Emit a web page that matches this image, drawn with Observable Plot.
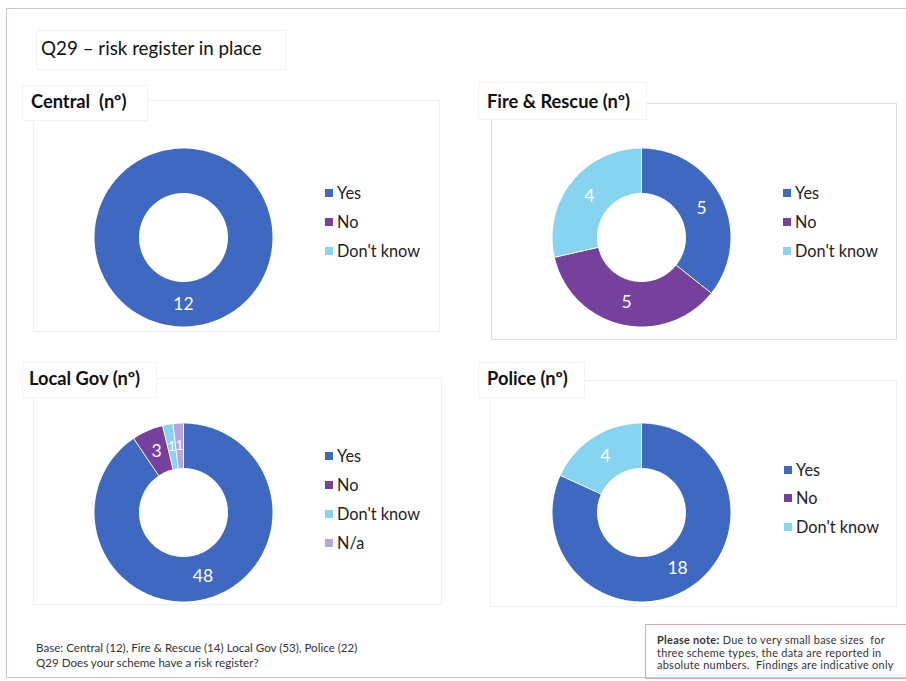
<!DOCTYPE html>
<html><head><meta charset="utf-8">
<script src="https://cdn.jsdelivr.net/npm/d3@7"></script>
<script src="https://cdn.jsdelivr.net/npm/@observablehq/plot@0.6"></script>
<style>
html,body{margin:0;padding:0;background:#fff;}
#page{position:relative;width:906px;height:681px;overflow:hidden;font-family:Lato,"Open Sans",sans-serif;color:#1e1e1e;background:#fff;}
.abs{position:absolute;}
.frame{left:6px;top:8px;width:940px;height:668px;border:1px solid #c3c8d6;}
.box{border:1px solid #f1f1f1;}
.title{font-size:18.8px;white-space:nowrap;line-height:22px;color:#111;}
.ptitle{font-size:18.3px;font-weight:bold;white-space:nowrap;line-height:22px;color:#111;}
.leg{font-size:16.3px;white-space:nowrap;line-height:18px;color:#222;}
.foot{font-size:11.6px;line-height:15px;color:#333;white-space:nowrap;}
.note{border:1px solid #e9a3ab;font-size:10.9px;letter-spacing:0.3px;line-height:12.6px;color:#333;white-space:nowrap;padding:9px 0 0 11px;box-sizing:border-box;}
</style></head><body><div id="page"></div>
<script>
// ---- data ----
const title = "Q29 – risk register in place";
const categories = ["Yes", "No", "Don't know", "N/a"];
const categoryColors = ["#3f68c0", "#76409d", "#86d4f0", "#b9a5de"];
const panelNames = ["Central&nbsp; (nº)", "Fire &amp; Rescue (nº)", "Local Gov (nº)", "Police (nº)"];
const centralValues = [12, 0, 0];
const fireRescueValues = [5, 5, 4];
const localGovValues = [48, 3, 1, 1];
const policeValues = [18, 0, 4];
const baseText = "Base: Central (12), Fire &amp; Rescue (14) Local Gov (53), Police (22)";
const questionText = "Q29 Does your scheme have a risk register?";
const noteLines = ["<b>Please note:</b> Due to very small base sizes&nbsp; for", "three scheme types, the data are reported in", "absolute numbers.&nbsp; Findings are indicative only"];

// ---- layout (positions only) ----
const layout = [
  {values: centralValues, cx: 183, cy: 237, titleBox: [22, 85, 124, 34], titleAt: [31, 101], area: [33, 100, 405, 230], legX: 325, legY: [193, 222, 251]},
  {values: fireRescueValues, cx: 641, cy: 237, titleBox: [478, 82, 167, 36], titleAt: [487, 101], area: [491, 103, 404, 235], legX: 783, legY: [193, 222, 251]},
  {values: localGovValues, cx: 183, cy: 512, titleBox: [22, 362, 133, 34], titleAt: [29, 378], area: [33, 378, 407, 225], legX: 325, legY: [456, 485, 514, 543]},
  {values: policeValues, cx: 641, cy: 512, titleBox: [478, 362, 105, 34], titleAt: [487, 378], area: [490, 380, 405, 225], legX: 784, legY: [470, 498, 527]}
];

const page = document.getElementById("page");
function el(cls, css, html) {
  const d = document.createElement("div");
  d.className = "abs " + cls;
  Object.assign(d.style, css);
  if (html != null) d.innerHTML = html;
  page.appendChild(d);
  return d;
}

el("frame", {});
el("box", {left: "36px", top: "30px", width: "248px", height: "38px"});
el("title", {left: "41px", top: "37px"}, title);

function donut(values) {
  const data = values.map((v, i) => ({cat: categories[i], value: v}));
  const total = d3.sum(values);
  const arcs = d3.pie().sort(null).value(d => d.value)(data).filter(a => a.value > 0);
  const R = 1, r = 0.5;
  const poly = [];
  for (const a of arcs) {
    const n = Math.max(2, Math.ceil((a.endAngle - a.startAngle) / (Math.PI / 180)));
    for (let k = 0; k <= n; k++) {
      const t = a.startAngle + (a.endAngle - a.startAngle) * k / n;
      poly.push({cat: a.data.cat, x: R * Math.sin(t), y: R * Math.cos(t)});
    }
    for (let k = n; k >= 0; k--) {
      const t = a.startAngle + (a.endAngle - a.startAngle) * k / n;
      poly.push({cat: a.data.cat, x: r * Math.sin(t), y: r * Math.cos(t)});
    }
  }
  const seps = arcs.length > 1 ? arcs.map(a => ({
    x1: r * Math.sin(a.startAngle), y1: r * Math.cos(a.startAngle),
    x2: R * Math.sin(a.startAngle), y2: R * Math.cos(a.startAngle)
  })) : [];
  const labels = arcs.map(a => {
    const m = (a.startAngle + a.endAngle) / 2, rm = (R + r) / 2;
    return {x: rm * Math.sin(m), y: rm * Math.cos(m), text: String(a.value), small: a.value / total < 0.03};
  });
  const textOpts = {x: "x", y: "y", text: "text", fill: "white", fontFamily: "Lato, sans-serif"};
  return Plot.plot({
    width: 200, height: 200, margin: 0,
    style: {background: "transparent", overflow: "visible"},
    x: {domain: [-1.124, 1.124], axis: null},
    y: {domain: [-1.124, 1.124], axis: null},
    color: {type: "ordinal", domain: categories, range: categoryColors},
    marks: [
      Plot.line(poly, {x: "x", y: "y", z: "cat", fill: "cat", stroke: "none"}),
      Plot.link(seps, {x1: "x1", y1: "y1", x2: "x2", y2: "y2", stroke: "white", strokeWidth: 1}),
      Plot.text(labels.filter(d => !d.small), {...textOpts, fontSize: 17.5}),
      Plot.text(labels.filter(d => d.small), {...textOpts, fontSize: 13})
    ]
  });
}

layout.forEach((p, i) => {
  const [ax, ay, aw, ah] = p.area;
  el("box", {left: ax + "px", top: ay + "px", width: aw + "px", height: ah + "px", borderColor: i === 1 ? "#dedede" : "#f0f0f0"});
  const [bx, by, bw, bh] = p.titleBox;
  el("box", {left: bx + "px", top: by + "px", width: bw + "px", height: bh + "px", background: "#fff", borderColor: "#f3f3f3"});
  el("ptitle", {left: p.titleAt[0] + "px", top: (p.titleAt[1] - 11) + "px"}, panelNames[i]);
  const holder = el("", {left: (p.cx - 100) + "px", top: (p.cy - 100) + "px", width: "200px", height: "200px"});
  holder.appendChild(donut(p.values));
  p.values.forEach((v, k) => {
    const y = p.legY[k];
    el("", {left: p.legX + "px", top: (y - 4) + "px", width: "8px", height: "8px", background: categoryColors[k]});
    el("leg", {left: (p.legX + 12) + "px", top: (y - 9) + "px"}, categories[k]);
  });
});

el("foot", {left: "36px", top: "640px"}, baseText + "<br>" + questionText);
el("note", {left: "645px", top: "624px", width: "280px", height: "55px"}, noteLines.join("<br>"));
</script>
</body></html>
